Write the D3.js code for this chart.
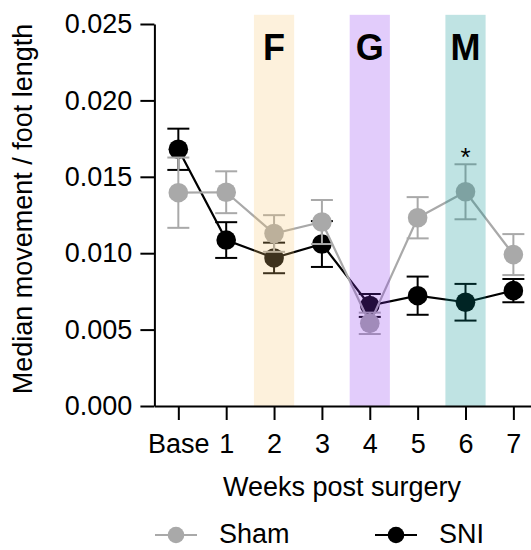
<!DOCTYPE html>
<html>
<head>
<meta charset="utf-8">
<script src="https://cdn.jsdelivr.net/npm/d3@7"></script>
<style>
  html, body { margin: 0; padding: 0; background: #fff; }
  svg { display: block; }
  text { font-family: "Liberation Sans", Arial, Helvetica, sans-serif; fill: #000; }
</style>
</head>
<body>
<svg id="chart" width="531" height="550"></svg>
<script>
// Time points (index 0 = baseline)
const categories = ["Base", "1", "2", "3", "4", "5", "6", "7"];

// Median movement / foot length, mean and error per time point
const shamMean = [0.01396, 0.01399, 0.01129, 0.01204, 0.00541, 0.01232, 0.01402, 0.00991];
const shamErr  = [0.00230, 0.00137, 0.00120, 0.00144, 0.00070, 0.00135, 0.00180, 0.00134];
const sniMean  = [0.01680, 0.01086, 0.00969, 0.01060, 0.00658, 0.00722, 0.00679, 0.00755];
const sniErr   = [0.00135, 0.00117, 0.00100, 0.00150, 0.00075, 0.00125, 0.00120, 0.00076];

// Highlighted weeks and their letters
const bandWeeks   = [2, 4, 6];
const bandLetters = ["F", "G", "M"];
const bandColors  = ["#F8C874", "#8B33EF", "#008F8F"];

// Significance marker
const starIndex = [6];

const yTicks = [0, 0.005, 0.010, 0.015, 0.020, 0.025];

const svg = d3.select("#chart");

const x = d3.scaleLinear().domain([-0.5, 7.5]).range([154.4, 537.3]);
const y = d3.scaleLinear().domain([0, 0.025]).range([406, 24]);
const step = x(1) - x(0);

const grey = "#A9A9A9";
const black = "#000000";

const plot = svg.append("g");

function drawSeries(mean, err, color) {
  const g = plot.append("g");
  // error bars
  mean.forEach((m, i) => {
    const cx = x(i);
    g.append("line")
      .attr("x1", cx).attr("x2", cx)
      .attr("y1", y(m + err[i])).attr("y2", y(m - err[i]))
      .attr("stroke", color).attr("stroke-width", 2);
    [m + err[i], m - err[i]].forEach(v => {
      g.append("line")
        .attr("x1", cx - 11).attr("x2", cx + 11)
        .attr("y1", y(v)).attr("y2", y(v))
        .attr("stroke", color).attr("stroke-width", 2);
    });
  });
  // connecting line
  const line = d3.line().x((d, i) => x(i)).y(d => y(d));
  g.append("path")
    .datum(mean)
    .attr("d", line)
    .attr("fill", "none")
    .attr("stroke", color)
    .attr("stroke-width", 2.2);
  // markers
  g.selectAll("circle")
    .data(mean)
    .join("circle")
    .attr("cx", (d, i) => x(i))
    .attr("cy", d => y(d))
    .attr("r", 9.8)
    .attr("fill", color);
}

drawSeries(sniMean, sniErr, black);
drawSeries(shamMean, shamErr, grey);

// translucent week bands laid over the data
bandWeeks.forEach((w, k) => {
  plot.append("rect")
    .attr("x", x(w) - step * 0.42)
    .attr("width", step * 0.84)
    .attr("y", y(0.0256))
    .attr("height", y(0) - y(0.0256))
    .attr("fill", bandColors[k])
    .attr("fill-opacity", 0.25);
  plot.append("text")
    .attr("x", x(w))
    .attr("y", 60)
    .attr("text-anchor", "middle")
    .attr("font-weight", "bold")
    .attr("font-size", 36)
    .text(bandLetters[k]);
});

// asterisk above the week 6 sham point
starIndex.forEach(i => {
  plot.append("text")
    .attr("x", x(i))
    .attr("y", y(shamMean[i] + shamErr[i]) + 2)
    .attr("text-anchor", "middle")
    .attr("font-size", 26)
    .text("*");
});

// Y axis
const yAxis = svg.append("g")
  .attr("transform", `translate(${x(-0.5)},0)`)
  .call(d3.axisLeft(y).tickValues(yTicks).tickFormat(d3.format(".3f"))
        .tickSize(14).tickSizeOuter(0).tickPadding(8));
yAxis.selectAll("text").attr("font-size", 27).attr("font-family", null);
yAxis.selectAll("line, path").attr("stroke", "#000").attr("stroke-width", 2);

// X axis
const xAxis = svg.append("g")
  .attr("transform", `translate(0,${y(0)})`)
  .call(d3.axisBottom(x).tickValues(d3.range(categories.length))
        .tickFormat(i => categories[i])
        .tickSize(14).tickSizeOuter(0).tickPadding(14));
xAxis.selectAll("text").attr("font-size", 27).attr("font-family", null);
xAxis.selectAll("line, path").attr("stroke", "#000").attr("stroke-width", 2);

// Axis titles
svg.append("text")
  .attr("transform", `translate(32,${(y(0) + y(0.025)) / 2 - 6}) rotate(-90)`)
  .attr("text-anchor", "middle")
  .attr("font-size", 27)
  .text("Median movement / foot length");

svg.append("text")
  .attr("x", 342)
  .attr("y", 496)
  .attr("text-anchor", "middle")
  .attr("font-size", 27)
  .text("Weeks post surgery");

// Legend
const legend = [
  { name: "Sham", color: grey, x0: 155 },
  { name: "SNI", color: black, x0: 375 }
];
legend.forEach(d => {
  const g = svg.append("g");
  g.append("line")
    .attr("x1", d.x0).attr("x2", d.x0 + 42)
    .attr("y1", 535).attr("y2", 535)
    .attr("stroke", d.color).attr("stroke-width", 2);
  g.append("circle")
    .attr("cx", d.x0 + 21).attr("cy", 535).attr("r", 8.3)
    .attr("fill", d.color);
  g.append("text")
    .attr("x", d.x0 + 64)
    .attr("y", 543)
    .attr("font-size", 27)
    .text(d.name);
});
</script>
</body>
</html>
